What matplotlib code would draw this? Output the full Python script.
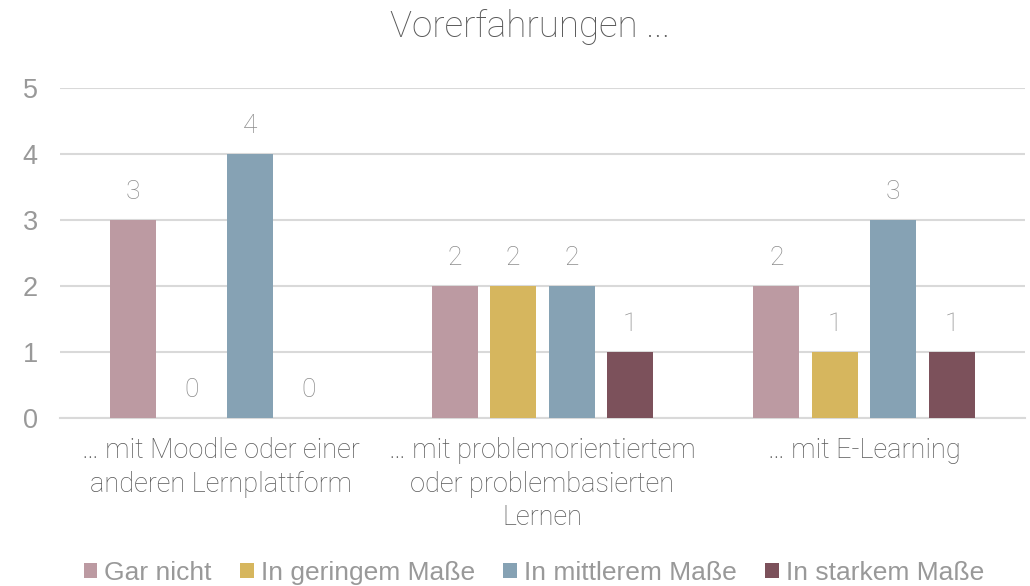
import matplotlib.pyplot as plt
import numpy as np

categories = ["… mit Moodle oder einer\nanderen Lernplattform",
              "… mit problemorientiertem\noder problembasierten\nLernen",
              "… mit E-Learning"]
series = ["Gar nicht", "In geringem Maße", "In mittlerem Maße", "In starkem Maße"]
values = [
    [3, 2, 2],
    [0, 2, 1],
    [4, 2, 3],
    [0, 1, 1],
]
colors = ["#BC9AA2", "#D6B65E", "#86A2B4", "#7C515B"]
y_ticks = [0, 1, 2, 3, 4, 5]

fig = plt.figure(figsize=(10.3, 5.86), dpi=100)
ax = fig.add_axes([0.0583, 0.2867, 0.9367, 0.5631])

x = np.arange(len(categories))
width = 0.143
step = 0.182
offsets = (np.arange(len(series)) - 1.5) * step

for i, name in enumerate(series):
    bars = ax.bar(x + offsets[i], values[i], width, color=colors[i], label=name, zorder=3)
    for b, v in zip(bars, values[i]):
        ax.annotate(str(v), (b.get_x() + b.get_width() / 2, v), xytext=(0, 20),
                    textcoords="offset points", ha="center", va="center",
                    fontsize=19, color="#8C8C8C", family="Roboto", fontweight="light")

ax.set_xlim(-0.5, 2.5)
ax.set_ylim(0, 5)
ax.set_yticks(y_ticks)
ax.yaxis.grid(True, color="#D9D9D9", linewidth=1.5, zorder=0)
for s in ["top", "right", "left"]:
    ax.spines[s].set_visible(False)
ax.spines["bottom"].set_color("#D9D9D9")
ax.spines["bottom"].set_linewidth(1.5)
ax.tick_params(axis="both", length=0)
ax.tick_params(axis="y", pad=16)
for lab in ax.get_yticklabels():
    lab.set_fontsize(19.5)
    lab.set_color("#999999")
    lab.set_family("Liberation Sans")

ax.set_xticks(x)
ax.set_xticklabels(categories, fontsize=19.5, color="#595959", family="Roboto",
                   fontweight="light", linespacing=1.3, va="top")
ax.tick_params(axis="x", pad=14)

fig.suptitle("Vorerfahrungen ...", x=0.515, y=0.985, fontsize=26.5, color="#595959",
             family="Roboto", fontweight="light")

ax.legend(loc="center", bbox_to_anchor=(0.491, -0.47), ncol=4, frameon=False,
          prop={"family": "Liberation Sans", "size": 19}, labelcolor="#999999",
          handlelength=0.52, handleheight=0.52, handletextpad=0.26, columnspacing=1.08)

fig.savefig("out.png", dpi=100)
